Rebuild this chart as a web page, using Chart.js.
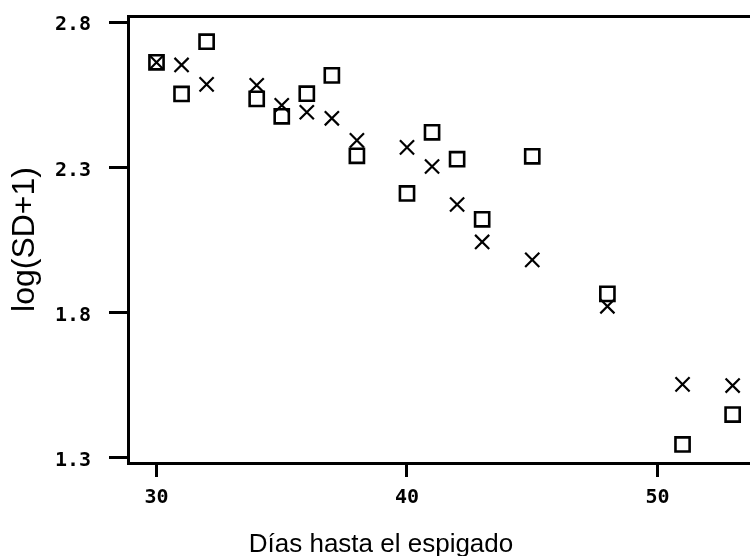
<!DOCTYPE html>
<html>
<head>
<meta charset="utf-8">
<script src="https://cdn.jsdelivr.net/npm/chart.js@4"></script>
<style>
  body { margin: 0; background: #fff; }
  #wrap { width: 750px; height: 556px; }
</style>
</head>
<body>
<div id="wrap"><canvas id="grafico" width="750" height="556"></canvas></div>
<script>
// dias hasta el espigado y log(SD+1) de las dos series (o / x)
const dias = [30, 31, 32, 34, 35, 36, 37, 38, 40, 41, 42, 43, 45, 48, 51, 53];
const serieO = [2.662, 2.553, 2.733, 2.536, 2.476, 2.554, 2.617, 2.340, 2.210, 2.421, 2.328, 2.121, 2.338, 1.864, 1.345, 1.448];
const serieX = [2.662, 2.653, 2.586, 2.583, 2.514, 2.490, 2.469, 2.393, 2.369, 2.303, 2.172, 2.043, 1.981, 1.821, 1.552, 1.548];

const ticksX = [30, 40, 50];
const ticksY = [1.3, 1.8, 2.3, 2.8];

const tickFont = { family: 'DejaVu Sans Mono', size: 20, weight: 'bold' };
const labelFont = 'Liberation Sans, Arial, sans-serif';

const puntos = (ys) => dias.map((d, i) => ({ x: d, y: ys[i] }));

new Chart(document.getElementById('grafico'), {
    type: 'scatter',
    data: {
        datasets: [
            {
                label: 'o',
                data: puntos(serieO),
                pointStyle: 'rect',
                pointRadius: 10,
                pointBorderWidth: 2.6,
                pointBorderColor: '#000',
                pointBackgroundColor: 'rgba(0,0,0,0)',
            },
            {
                label: 'x',
                data: puntos(serieX),
                pointStyle: 'crossRot',
                pointRadius: 10,
                pointBorderWidth: 2.2,
                pointBorderColor: '#000',
                pointBackgroundColor: 'rgba(0,0,0,0)',
            },
        ],
    },
    options: {
        responsive: false,
        animation: false,
        layout: { autoPadding: false, padding: { left: 12, top: 16, right: 0, bottom: 0 } },
        plugins: {
            legend: { display: false },
            tooltip: { enabled: false },
            title: {
                display: true,
                position: 'bottom',
                text: 'Días hasta el espigado',
                color: '#000',
                font: { family: labelFont, size: 26, weight: 'normal', lineHeight: 1 },
                padding: { top: 0, bottom: -2 },
            },
        },
        scales: {
            x: {
                type: 'linear',
                min: 28.862,
                max: 53.693,
                afterBuildTicks: (s) => { s.ticks = ticksX.map((v) => ({ value: v })); },
                afterFit: (s) => { s.height = 69; s.paddingLeft = 0; s.paddingRight = 0; },
                grid: { drawOnChartArea: false, tickLength: 14, tickWidth: 3, tickColor: '#000' },
                border: { color: '#000', width: 3 },
                ticks: { color: '#000', font: tickFont, padding: 9, maxRotation: 0 },
            },
            x2: {
                type: 'linear',
                position: 'top',
                afterFit: (s) => { s.height = 0; s.paddingLeft = 0; s.paddingRight = 0; },
                grid: { drawOnChartArea: false, drawTicks: false },
                border: { color: '#000', width: 3 },
                ticks: { display: false },
            },
            y: {
                type: 'linear',
                min: 1.281,
                max: 2.8217,
                afterBuildTicks: (s) => { s.ticks = ticksY.map((v) => ({ value: v })); },
                afterFit: (s) => { s.width = 116; s.paddingTop = 0; s.paddingBottom = 0; },
                grid: { drawOnChartArea: false, tickLength: 19, tickWidth: 3, tickColor: '#000' },
                border: { color: '#000', width: 3 },
                ticks: {
                    color: '#000',
                    font: tickFont,
                    padding: 18,
                    labelOffset: 3,
                    callback: (v) => Number(v).toFixed(1),
                },
                title: {
                    display: true,
                    text: 'log(SD+1)',
                    color: '#000',
                    font: { family: labelFont, size: 32, lineHeight: 1 },
                    padding: { top: -3, bottom: 0 },
                },
            },
        },
    },
});
</script>
</body>
</html>
